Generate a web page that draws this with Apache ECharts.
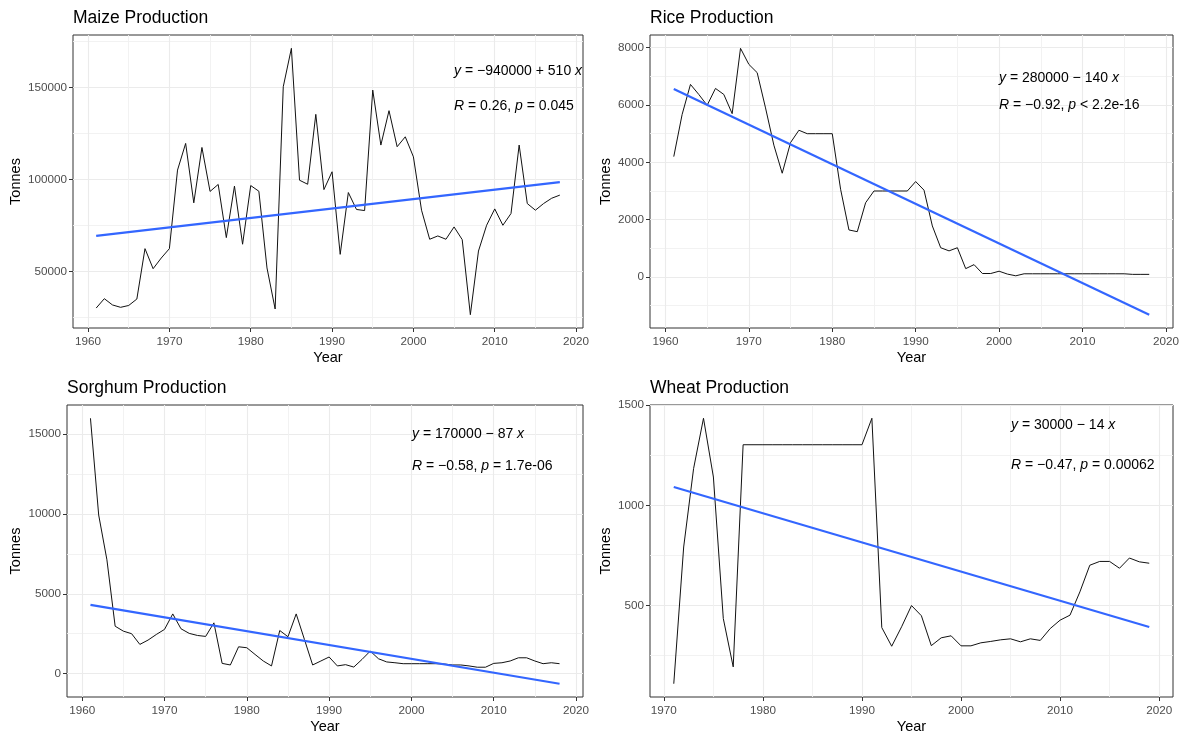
<!DOCTYPE html>
<html><head><meta charset="utf-8">
<script src="https://cdn.jsdelivr.net/npm/echarts@6/dist/echarts.min.js"></script>
<style>html,body{margin:0;padding:0;background:#fff}#c{width:1185px;height:735px}</style>
</head><body><div id="c"></div>
<script>
// ---------- data ----------
const yearsA = [1961,1962,1963,1964,1965,1966,1967,1968,1969,1970,1971,1972,1973,1974,1975,1976,1977,1978,1979,1980,
  1981,1982,1983,1984,1985,1986,1987,1988,1989,1990,1991,1992,1993,1994,1995,1996,1997,1998,1999,2000,
  2001,2002,2003,2004,2005,2006,2007,2008,2009,2010,2011,2012,2013,2014,2015,2016,2017,2018];
const yearsWheat = [1971,1972,1973,1974,1975,1976,1977,1978,1979,1980,1981,1982,1983,1984,1985,1986,1987,1988,1989,1990,
  1991,1992,1993,1994,1995,1996,1997,1998,1999,2000,2001,2002,2003,2004,2005,2006,2007,2008,2009,2010,
  2011,2012,2013,2014,2015,2016,2017,2018,2019];

const maize = [30200,35300,31900,30600,31600,35100,62500,51600,57400,62500,
  105200,119700,87400,117500,93600,97400,68500,96500,64900,96800,
  93700,52000,29700,150500,171400,99700,97500,135500,94600,104300,
  59400,93000,83800,83200,148700,118800,137500,117900,123300,112400,
  83400,67600,69400,67600,74300,67400,26600,61200,75200,84100,
  75200,81600,118800,87000,83400,87000,89900,91600];
const rice = [4200,5670,6720,6370,5990,6580,6370,5700,7980,7420,
  7130,5900,4600,3620,4690,5120,5000,5000,5000,5000,
  3060,1640,1580,2590,3000,3000,3000,3000,3000,3330,
  3030,1780,1020,910,1020,290,430,120,120,200,
  100,40,110,110,110,110,110,110,110,110,
  110,110,110,110,110,90,90,90];
const sorghum = [16000,9940,7130,2970,2660,2500,1830,2100,2450,2770,
  3740,2810,2520,2390,2330,3180,640,540,1680,1620,
  1200,790,480,2700,2310,3740,2140,540,790,1040,
  480,560,410,890,1410,930,730,680,620,620,
  620,620,620,600,540,540,480,400,400,640,
  680,790,990,990,790,620,680,620];
const wheat = [110,792,1183,1434,1141,435,194,1302,1302,1302,
  1302,1302,1302,1302,1302,1302,1302,1302,1302,1302,
  1434,390,297,394,500,449,300,339,349,299,
  299,314,321,329,334,319,334,326,385,427,
  452,568,701,720,720,686,737,718,711];

const xMajorA = [1960,1970,1980,1990,2000,2010,2020];
const xMinorA = [1965,1975,1985,1995,2005,2015];
const xMajorW = [1970,1980,1990,2000,2010,2020];
const xMinorW = [1975,1985,1995,2005,2015];
const maizeYMajor = [50000,100000,150000];
const maizeYMinor = [25000,75000,125000,175000];
const riceYMajor = [0,2000,4000,6000,8000];
const riceYMinor = [-1000,1000,3000,5000,7000];
const sorghumYMajor = [0,5000,10000,15000];
const sorghumYMinor = [2500,7500,12500];
const wheatYMajor = [500,1000,1500];
const wheatYMinor = [250,750,1250];

const titles = ['Maize Production','Rice Production','Sorghum Production','Wheat Production'];
const eqTexts = ['{i|y} = −940000 + 510 {i|x}','{i|y} = 280000 − 140 {i|x}','{i|y} = 170000 − 87 {i|x}','{i|y} = 30000 − 14 {i|x}'];
const statTexts = ['{i|R} = 0.26, {i|p} = 0.045','{i|R} = −0.92, {i|p} < 2.2e-16','{i|R} = −0.58, {i|p} = 1.7e-06','{i|R} = −0.47, {i|p} = 0.00062'];

// ---------- layout ----------
const FONT = 'Liberation Sans, Arial, sans-serif';
const panels = [
  {years: yearsA, vals: maize, xMaj: xMajorA, xMin: xMinorA, yMaj: maizeYMajor, yMin: maizeYMinor,
   grid: {left: 73, top: 35, width: 510, height: 293}, tx: 73, ty: 18, ex: 454, ey: 71, ry: 106, yGap: 50},
  {years: yearsA, vals: rice, xMaj: xMajorA, xMin: xMinorA, yMaj: riceYMajor, yMin: riceYMinor,
   grid: {left: 650, top: 35, width: 523, height: 293}, tx: 650, ty: 18, ex: 999, ey: 78, ry: 105, yGap: 37},
  {years: yearsA, vals: sorghum, xMaj: xMajorA, xMin: xMinorA, yMaj: sorghumYMajor, yMin: sorghumYMinor,
   grid: {left: 67, top: 405, width: 516, height: 293}, tx: 67, ty: 388, ex: 412, ey: 434, ry: 466, yGap: 44},
  {years: yearsWheat, vals: wheat, xMaj: xMajorW, xMin: xMinorW, yMaj: wheatYMajor, yMin: wheatYMinor,
   grid: {left: 650, top: 405, width: 523, height: 293}, tx: 650, ty: 388, ex: 1011, ey: 425, ry: 465, yGap: 37}
];

function fit(xs, ys) {
  const n = xs.length;
  let mx = 0, my = 0;
  for (let i = 0; i < n; i++) { mx += xs[i]; my += ys[i]; }
  mx /= n; my /= n;
  let sxy = 0, sxx = 0;
  for (let i = 0; i < n; i++) { sxy += (xs[i]-mx)*(ys[i]-my); sxx += (xs[i]-mx)*(xs[i]-mx); }
  const b = sxy / sxx, a = my - b*mx;
  return {a, b};
}

const option = {animation: false, backgroundColor: '#fff', grid: [], xAxis: [], yAxis: [], series: [], graphic: []};
const fmt = v => String(v);

panels.forEach((p, i) => {
  const f = fit(p.years, p.vals);
  const x0 = p.years[0], x1 = p.years[p.years.length-1];
  const f0 = f.a + f.b*x0, f1 = f.a + f.b*x1;
  const lo = Math.min(Math.min(...p.vals), f0, f1), hi = Math.max(Math.max(...p.vals), f0, f1);
  const xr = x1 - x0, yr = hi - lo;
  const xmin = x0 - 0.05*xr, xmax = x1 + 0.05*xr, ymin = lo - 0.05*yr, ymax = hi + 0.05*yr;

  option.grid.push(Object.assign({show: true, borderColor: '#333', borderWidth: 1, backgroundColor: '#fff'}, p.grid));
  // major x
  option.xAxis.push({gridIndex: i, type: 'value', position: 'bottom', min: xmin, max: xmax,
    axisLine: {show: false, onZero: false},
    axisTick: {show: true, length: 4, customValues: p.xMaj, lineStyle: {color: '#333', width: 1}},
    axisLabel: {customValues: p.xMaj, formatter: fmt, color: '#4D4D4D', fontSize: 11.7, fontFamily: FONT, margin: 8},
    splitLine: {show: true, lineStyle: {color: '#EBEBEB', width: 1.1}},
    name: 'Year', nameLocation: 'middle', nameGap: 22, nameTextStyle: {fontSize: 14.5, color: '#000', fontFamily: FONT}
  });
  // minor x
  option.xAxis.push({gridIndex: i, type: 'value', position: 'bottom', min: xmin, max: xmax,
    axisLine: {show: false, onZero: false},
    axisTick: {show: false, customValues: p.xMin},
    axisLabel: {show: false, customValues: p.xMin},
    splitLine: {show: true, lineStyle: {color: '#F1F1F1', width: 0.9}}
  });
  // major y
  option.yAxis.push({gridIndex: i, type: 'value', position: 'left', min: ymin, max: ymax,
    axisLine: {show: false, onZero: false},
    axisTick: {show: true, length: 4, customValues: p.yMaj, lineStyle: {color: '#333', width: 1}},
    axisLabel: {customValues: p.yMaj, formatter: fmt, color: '#4D4D4D', fontSize: 11.7, fontFamily: FONT, margin: 6},
    splitLine: {show: true, lineStyle: {color: '#EBEBEB', width: 1.1}},
    name: 'Tonnes', nameLocation: 'middle', nameGap: p.yGap, nameTextStyle: {fontSize: 14.5, color: '#000', fontFamily: FONT}
  });
  // minor y
  option.yAxis.push({gridIndex: i, type: 'value', position: 'left', min: ymin, max: ymax,
    axisLine: {show: false, onZero: false},
    axisTick: {show: false, customValues: p.yMin},
    axisLabel: {show: false, customValues: p.yMin},
    splitLine: {show: true, lineStyle: {color: '#F1F1F1', width: 0.9}}
  });

  option.series.push({type: 'line', xAxisIndex: 2*i, yAxisIndex: 2*i, showSymbol: false, silent: true,
    data: p.years.map((y, k) => [y, p.vals[k]]), lineStyle: {color: '#111', width: 1}, z: 2});
  option.series.push({type: 'line', xAxisIndex: 2*i, yAxisIndex: 2*i, showSymbol: false, silent: true,
    data: [[x0, f0], [x1, f1]], lineStyle: {color: '#3366FF', width: 2.2}, z: 3});

  option.graphic.push({type: 'text', x: p.tx, y: p.ty, silent: true,
    style: {text: titles[i], fill: '#000', fontSize: 17.5, fontFamily: FONT, verticalAlign: 'middle', align: 'left'}});
  const rich = {i: {fontStyle: 'italic', fontSize: 14, fontFamily: FONT, fill: '#000'}};
  option.graphic.push({type: 'text', x: p.ex, y: p.ey, silent: true, z: 10,
    style: {text: eqTexts[i], rich, fill: '#000', fontSize: 14, fontFamily: FONT, verticalAlign: 'middle', align: 'left'}});
  option.graphic.push({type: 'text', x: p.ex, y: p.ry, silent: true, z: 10,
    style: {text: statTexts[i], rich, fill: '#000', fontSize: 14, fontFamily: FONT, verticalAlign: 'middle', align: 'left'}});
});

const chart = echarts.init(document.getElementById('c'), null, {renderer: 'canvas'});
chart.setOption(option);
</script></body></html>
